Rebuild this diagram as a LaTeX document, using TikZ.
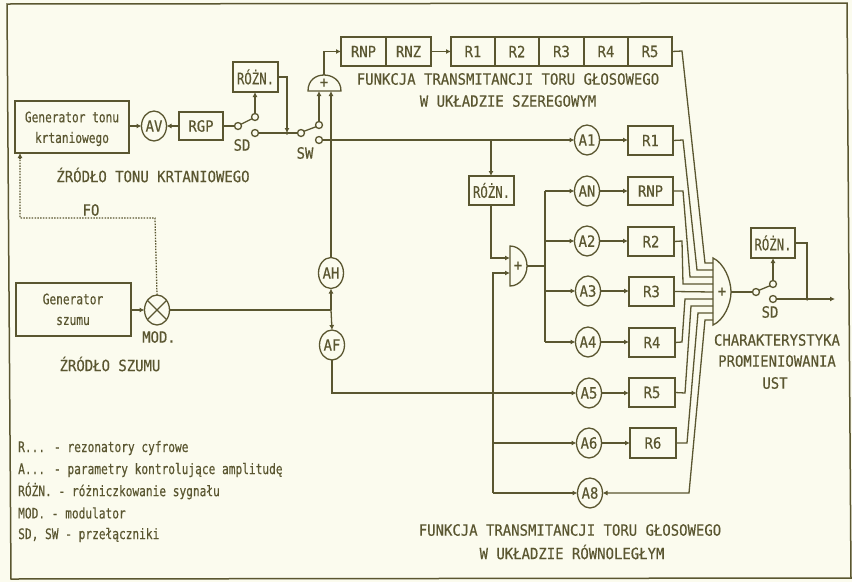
\documentclass[tikz,border=0pt]{standalone}
\usepackage{fontspec}
\setmainfont[FakeStretch=0.9,FakeBold=0.35]{DejaVu Sans Mono}
\newfontfamily\narrowmono[FakeStretch=0.77,FakeBold=0.35]{DejaVu Sans Mono}
\usetikzlibrary{shapes.geometric,arrows.meta}
\definecolor{ink}{HTML}{5A5630}
\definecolor{paper}{HTML}{FBFBEE}
\newcommand{\capsf}{\fontsize{15.5}{17}\selectfont}
\newcommand{\lowf}{\narrowmono\fontsize{14.5}{16}\selectfont}
\newcommand{\midf}{\narrowmono\fontsize{16}{17}\selectfont}
\newcommand{\bx}[6]{%
  \pgfmathsetmacro{\bw}{#4-#2}\pgfmathsetmacro{\bh}{#5-#3}%
  \pgfmathsetmacro{\cx}{(#2+#4)/2}\pgfmathsetmacro{\cy}{(#3+#5)/2}%
  \node[blk,minimum width=\bw pt,minimum height=\bh pt] (#1) at (\cx,\cy) {#6};}
\tikzset{
  blk/.style={draw=ink,line width=1.3pt,inner sep=0pt,outer sep=0pt,text=ink,font=\capsf},
  amp/.style={draw=ink,ellipse,line width=1.3pt,inner sep=0pt,outer sep=0pt,minimum width=25pt,minimum height=30pt,text=ink,font=\capsf},
  contact/.style={draw=ink,circle,line width=1.3pt,inner sep=0pt,outer sep=0pt,minimum size=7pt,fill=paper},
  lab/.style={text=ink,font=\capsf,inner sep=0pt},
  low/.style={text=ink,font=\lowf,inner sep=0pt},
  wire/.style={draw=ink,line width=1.3pt},
  arr/.style={wire,-{Latex[length=5pt,width=5pt]}},
  tap/.style={circle,fill=ink,inner sep=0pt,minimum size=3.5pt}
}
\begin{document}
\begin{tikzpicture}[x=1pt,y=-1pt]
\useasboundingbox (0,0) rectangle (852,582);
\fill[paper] (0,0) rectangle (852,582);
\draw[ink,line width=1.5pt] (7,4) -- (847,3) -- (851,578) -- (11,579) -- cycle;

% top-left chain
\bx{gt}{15}{101}{129}{153}{}
\node[low] (gt1) at (72,117) {Generator tonu};
\node[low] (gt2) at (72,139) {krtaniowego};
\node[amp] (av) at (154,126) {AV};
\bx{rgp}{179}{112}{223}{140}{RGP}
\node[contact] (sdi) at (238,126) {};
\node[contact] (sdu) at (255,117) {};
\node[contact] (sdl) at (255,133) {};
\bx{roz1}{233}{62}{278}{92}{\midf RÓŻN.}
\node[contact] (swi) at (301,133) {};
\node[contact] (swu) at (319,125) {};
\node[contact] (swl) at (319,140) {};
\node[lab] (sdt) at (242,145) {SD};
\node[lab] (swt) at (305,153) {SW};

% summer over the switch
\draw[wire] (308,91) .. controls (308,80) and (316,75) .. (324,75)
            .. controls (332,75) and (341,80) .. (341,91) -- cycle;
\node[lab] (sum1) at (324,83) {+};
\coordinate (s1a) at (319,91);
\coordinate (s1b) at (331,91);
\coordinate (s1o) at (324,75);

% series branch
\bx{rnp}{341}{37}{386}{66}{RNP}
\bx{rnz}{386}{37}{431}{66}{RNZ}
\bx{sr1}{451}{37}{495}{66}{R1}
\bx{sr2}{495}{37}{539}{66}{R2}
\bx{sr3}{539}{37}{584}{66}{R3}
\bx{sr4}{584}{37}{628}{66}{R4}
\bx{sr5}{628}{37}{672}{66}{R5}
\node[lab] (t1) at (508,79) {FUNKCJA TRANSMITANCJI TORU GŁOSOWEGO};
\node[lab] (t2) at (508,101) {W UKŁADZIE SZEREGOWYM};
\node[lab] (t3) at (153,175) {ŹRÓDŁO TONU KRTANIOWEGO};
\node[lab] (fo) at (91,210) {FO};

% noise source
\bx{gs}{16}{283}{131}{336}{}
\node[low] (gs1) at (73,299) {Generator};
\node[low] (gs2) at (73,321) {szumu};
\node[amp] (mod) at (157,310) {};
\draw[wire] (mod.45) -- (mod.225) (mod.135) -- (mod.315);
\node[lab] (modt) at (159,337) {MOD.};
\node[lab] (t4) at (110,364) {ŹRÓDŁO SZUMU};
\node[amp,minimum height=31pt] (ah) at (331,273) {AH};
\node[amp] (af) at (332,345) {AF};

% parallel branch
\bx{roz2}{469}{176}{514}{205}{\midf RÓŻN.}
\node[amp] (a1) at (587,140) {A1};
\node[amp] (an) at (587,191) {AN};
\node[amp] (a2) at (587,241) {A2};
\node[amp] (a3) at (588,291) {A3};
\node[amp] (a4) at (588,342) {A4};
\node[amp] (a5) at (589,393) {A5};
\node[amp] (a6) at (589,443) {A6};
\node[amp] (a8) at (590,493) {A8};
\bx{r1}{628}{126}{673}{155}{R1}
\bx{rn}{628}{177}{673}{205}{RNP}
\bx{r2}{628}{227}{674}{256}{R2}
\bx{r3}{629}{277}{674}{306}{R3}
\bx{r4}{629}{328}{675}{357}{R4}
\bx{r5}{629}{378}{675}{407}{R5}
\bx{r6}{630}{428}{676}{458}{R6}

% small summer
\draw[wire] (510,246) .. controls (520,246) and (527,256) .. (527,266)
            .. controls (527,276) and (520,286) .. (510,286) -- cycle;
\node[lab] (sum2) at (518,266) {+};
\coordinate (s2a) at (510,258);
\coordinate (s2b) at (510,273);
\coordinate (s2o) at (527,266);

% big summer
\draw[wire] (713,258) .. controls (724,263) and (731,280) .. (731,292)
            .. controls (731,304) and (724,320) .. (713,325) -- cycle;
\node[lab] (sum3) at (722,292) {+};
\coordinate (s3o) at (731,292);
\foreach \n/\yy in {1/263,2/270,3/277,4/284,5/292,6/299,7/306,8/313,9/320}
  \coordinate (in\n) at (713,\yy);

% output stage
\node[contact] (odi) at (756,292) {};
\node[contact] (odu) at (773,284) {};
\node[contact] (odl) at (773,299) {};
\bx{roz3}{751}{228}{795}{258}{\midf RÓŻN.}
\coordinate (oend) at (835,299);
\node[lab] (sd2) at (770,312) {SD};
\node[lab] (c1) at (777,340) {CHARAKTERYSTYKA};
\node[lab] (c2) at (777,361) {PROMIENIOWANIA};
\node[lab] (c3) at (775,383) {UST};
\node[lab] (t5) at (570,530) {FUNKCJA TRANSMITANCJI TORU GŁOSOWEGO};
\node[lab] (t6) at (572,552) {W UKŁADZIE RÓWNOLEGŁYM};

% legend
\node[low,anchor=west] (l1) at (18,448) {R... - rezonatory cyfrowe};
\node[low,anchor=west] (l2) at (18,470) {A... - parametry kontrolujące amplitudę};
\node[low,anchor=west] (l3) at (18,491) {RÓŻN. - różniczkowanie sygnału};
\node[low,anchor=west] (l4) at (18,513) {MOD. - modulator};
\node[low,anchor=west] (l5) at (18,535) {SD, SW - przełączniki};

% junction points
\coordinate (jroz) at (287,133);
\coordinate (jsw) at (331,140);
\coordinate (jmod) at (331,310);
\coordinate (jroz2) at (491,140);
\coordinate (jbus) at (545,266);
\coordinate (jout) at (807,299);

% connectors: top-left
\draw[arr] (gt.east |- av.west) -- (av.west);
\draw[arr] (rgp.west) -- (av.east);
\draw[wire] (rgp.east) -- (sdi.west);
\draw[wire] (sdi.30) -- (sdu.210);
\draw[arr] (sdu.north) -- (roz1.south -| sdu.north);
\draw[wire] (sdl.east) -- (swi.west);
\draw[arr] (roz1.east) -- (roz1.east -| jroz) -- (jroz);
\draw[wire] (swi.30) -- (swu.210);
\draw[arr] (swu.north) -- (s1a);
\draw[wire] (swl.east) -- (jsw);
\draw[arr] (ah.north) -- (s1b);
\draw[arr] (s1o) -- (s1o |- rnp.west) -- (rnp.west);
\draw[arr] (rnz.east) -- (sr1.west);
% dotted F0
\coordinate (f1) at (155,218);
\coordinate (f2) at (20,218);
\coordinate (f3) at (20,158);
\coordinate (f4) at (20,153);
\draw[wire,dash pattern=on 1.5pt off 1.3pt] (mod.north) -- (f1) -- (f2) -- (f3);
\draw[arr] (f3) -- (f4);
% noise
\draw[arr] (gs.east |- mod.west) -- (mod.west);
\draw[wire] (mod.east) -- (jmod);
\draw[arr] (jmod) -- (ah.south);
\draw[arr] (jmod) -- (af.north);
% parallel feed
\draw[arr] (jsw) -- (a1.west);
\draw[arr] (jroz2) -- (roz2.north -| jroz2);
\draw[arr] (roz2.south -| jroz2) -- (jroz2 |- s2a) -- (s2a);
\coordinate (jlow) at (493,273);
\draw[arr] (a6.west -| jlow) -- (jlow) -- (s2b);
\draw[wire] (jlow |- a8.west) -- (jlow |- a6.west);
\draw[arr] (jlow |- a8.west) -- (a8.west);
\draw[arr] (jlow |- a6.west) -- (a6.west);
\draw[arr] (af.south) -- (af.south |- a5.west) -- (a5.west);
% bus
\draw[wire] (s2o) -- (jbus);
\draw[wire] (jbus |- an.west) -- (jbus |- a4.west);
\draw[arr] (jbus |- an.west) -- (an.west);
\draw[arr] (jbus |- a2.west) -- (a2.west);
\draw[arr] (jbus |- a3.west) -- (a3.west);
\draw[arr] (jbus |- a4.west) -- (a4.west);
% amp to resonator
\foreach \a/\r in {a1/r1,an/rn,a2/r2,a3/r3,a4/r4,a5/r5,a6/r6}
  \draw[arr] (\a.east) -- (\a.east -| \r.west);
% into big summer
\draw[wire] (sr5.east) -- (682,51) -- (705,263) -- (in1);
\draw[wire] (r1.east) -- (683,140) -- (697,270) -- (in2);
\draw[wire] (rn.east) -- (683,191) -- (690,277) -- (in3);
\draw[wire] (r2.east) -- (682,241) -- (683,284) -- (in4);
\draw[wire] (r3.east) -- (in5);
\draw[wire] (r4.east) -- (682,342) -- (685,299) -- (in6);
\draw[wire] (r5.east) -- (685,393) -- (691,306) -- (in7);
\draw[wire] (r6.east) -- (687,443) -- (698,313) -- (in8);
\draw[arr] (in9) -- (705,320) -- (689,493) -- (a8.east);
% output
\draw[wire] (s3o) -- (odi.west);
\draw[wire] (odi.30) -- (odu.210);
\draw[arr] (odu.north) -- (roz3.south -| odu.north);
\draw[arr] (odl.east) -- (oend);
\draw[wire] (roz3.east) -- (roz3.east -| jout) -- (jout);
\node[tap] (d1) at (jout) {};
\node[tap] (d2) at (jroz) {};
\end{tikzpicture}
\end{document}
